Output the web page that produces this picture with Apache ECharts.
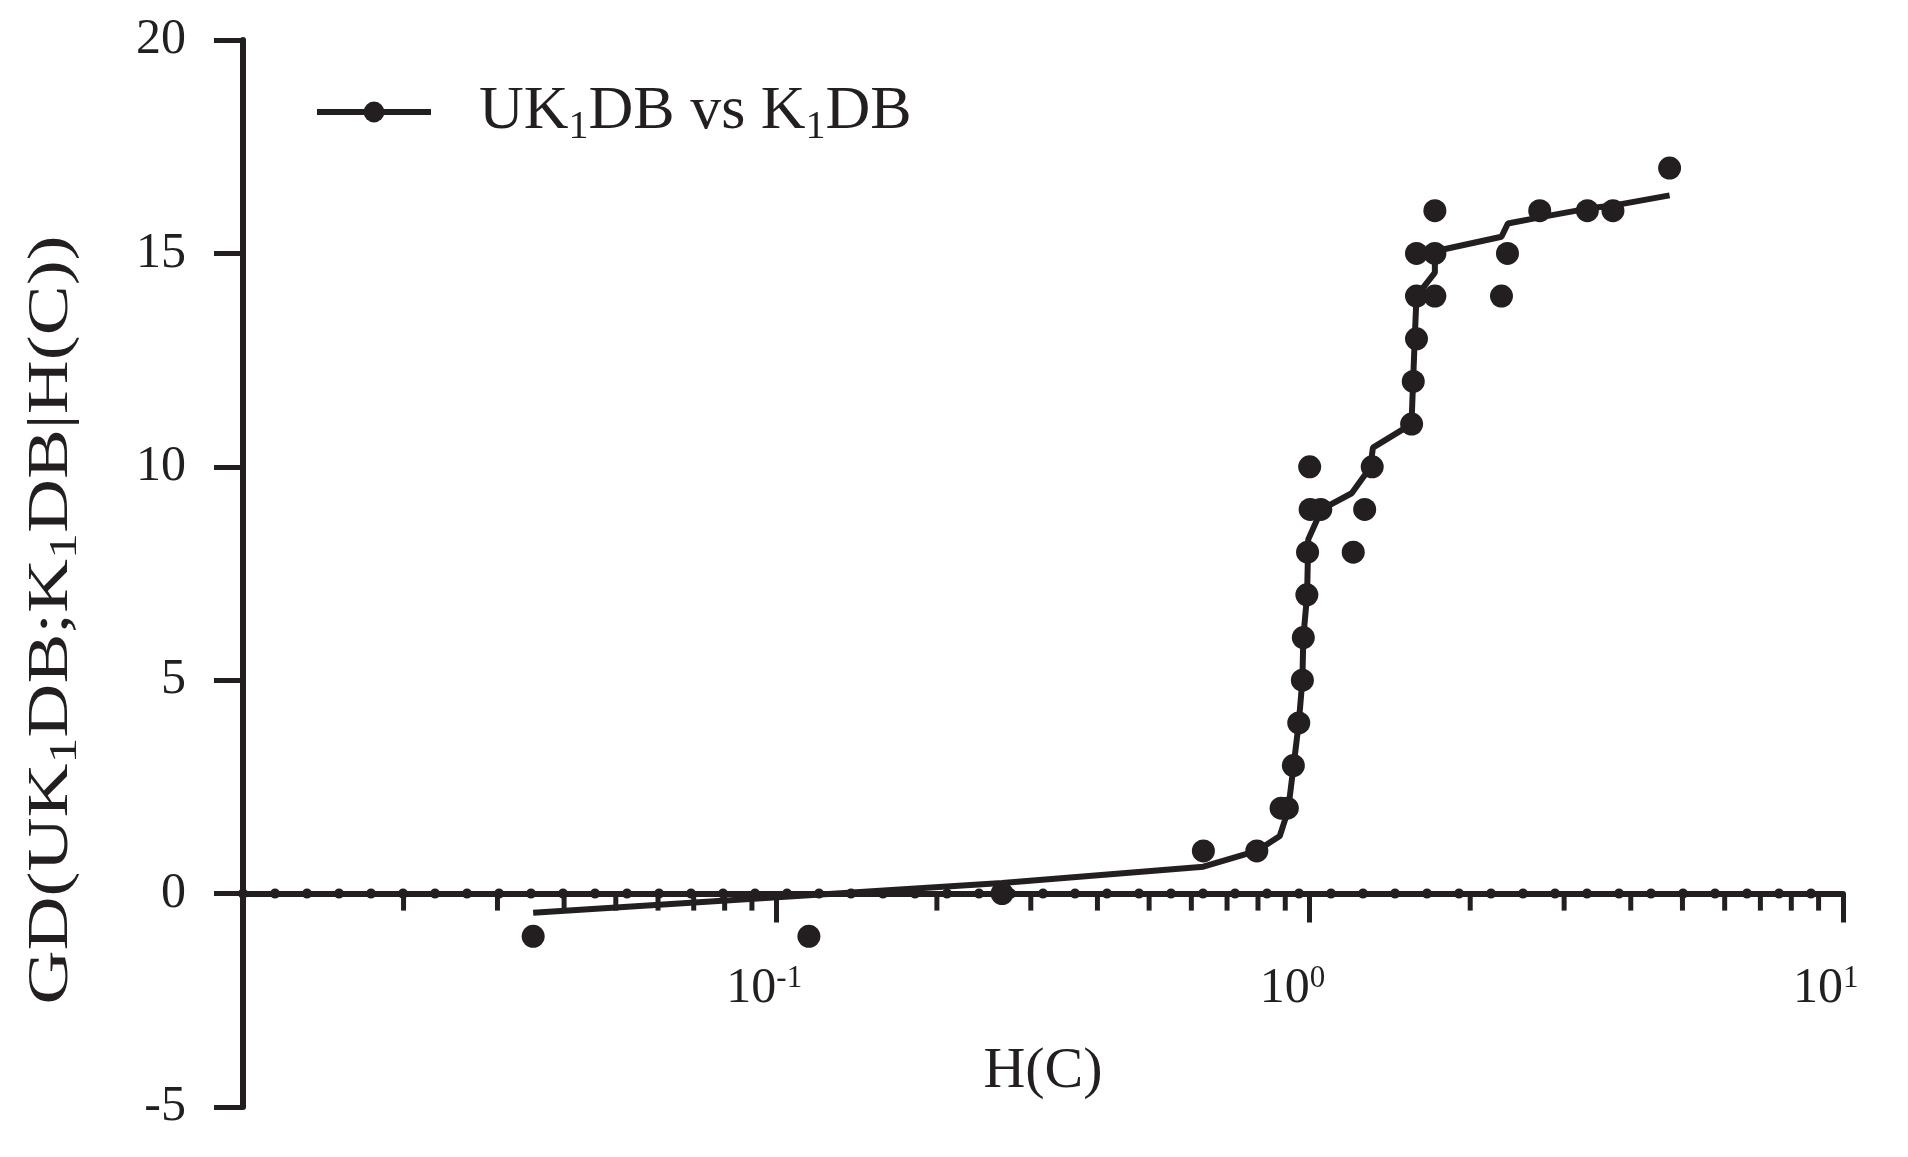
<!DOCTYPE html>
<html><head><meta charset="utf-8">
<script src="https://cdn.jsdelivr.net/npm/echarts@6/dist/echarts.min.js"></script>
<style>html,body{margin:0;padding:0;background:#fff}#c{width:1908px;height:1157px}</style>
</head><body><div id="c"></div>
<script>
// ---- data ----
const pointX = [0.0350, 0.1151, 0.265, 0.632, 0.796, 0.884, 0.908, 0.932, 0.954, 0.969, 0.973, 0.988, 0.991, 1.207, 1.002, 1.049, 1.268, 1.000, 1.310, 1.553, 1.564, 1.586, 1.586, 1.586, 1.717, 1.717, 1.717, 2.289, 2.349, 2.700, 3.316, 3.704, 4.73];
const pointY = [-1, -1, 0, 1, 1, 2, 2, 3, 4, 5, 6, 7, 8, 8, 9, 9, 9, 10, 10, 11, 12, 13, 14, 15, 14, 15, 16, 14, 15, 16, 16, 16, 17];
const fitX = [0.0350, 0.1151, 0.265, 0.632, 0.796, 0.879, 0.911, 0.933, 0.954, 0.969, 0.973, 0.989, 0.994, 1.053, 1.199, 1.268, 1.300, 1.314, 1.552, 1.563, 1.574, 1.586, 1.717, 1.717, 2.289, 2.353, 2.716, 3.32, 3.70, 4.73];
const fitY = [-0.45, -0.04, 0.25, 0.63, 1.0, 1.35, 1.95, 3.0, 4.0, 5.0, 6.0, 7.0, 8.3, 9.0, 9.38, 9.8, 10.0, 10.45, 11.0, 12.0, 13.0, 14.0, 14.55, 15.05, 15.39, 15.7, 15.85, 16.05, 16.12, 16.36];
const zeroLineX = [0.01, 10];
const zeroLineY = [0, 0];
const minorTickValues = [0.02,0.03,0.04,0.05,0.06,0.07,0.08,0.09,0.2,0.3,0.4,0.5,0.6,0.7,0.8,0.9,2,3,4,5,6,7,8,9];
const xLabelExp = {'0.1': '-1', '1': '0', '10': '1'};
const yMin = -5, yMax = 20, yStep = 5;
const seriesName = 'UK1DB vs K1DB';

// ---- chart ----
const INK = '#231f20';
const FONT = '"Liberation Serif", "Times New Roman", serif';
const GRID = {left: 243, right: 65, top: 40, bottom: 50};
const chart = echarts.init(document.getElementById('c'), null, {renderer: 'canvas'});
const option = {
  backgroundColor: '#fff',
  animation: false,
  grid: Object.assign({containLabel: false, outerBoundsMode: 'none'}, GRID),
  legend: {
    left: 314, top: 81, padding: 0,
    itemWidth: 114, itemHeight: 26,
    data: [seriesName],
    lineStyle: {width: 6, color: INK},
    itemStyle: {color: INK},
    formatter: () => '{sp|}{a|UK}{s|1}{a|DB vs K}{s|1}{a|DB}',
    textStyle: {
      color: INK, fontFamily: FONT,
      rich: {
        sp: {width: 43},
        a: {fontSize: 62, fontFamily: FONT, color: INK, lineHeight: 70},
        s: {fontSize: 40, fontFamily: FONT, color: INK, lineHeight: 40, verticalAlign: 'bottom'}
      }
    }
  },
  xAxis: {
    type: 'log', logBase: 10, min: 0.01, max: 10,
    offset: 0,
    axisLine: {onZero: false, lineStyle: {color: INK, width: 6}},
    axisTick: {show: true, length: 29, lineStyle: {color: INK, width: 5}},
    splitLine: {show: false},
    minorTick: {show: false},
    axisLabel: {
      margin: 70, color: INK,
      formatter: (v) => {
        const k = String(+v.toPrecision(6));
        return xLabelExp[k] !== undefined ? '{b|10}{e|' + xLabelExp[k] + '}' : '';
      },
      rich: {
        b: {fontSize: 50, fontFamily: FONT, color: INK, width: 50, align: 'left', lineHeight: 50},
        e: {fontSize: 31, fontFamily: FONT, color: INK, width: 50, align: 'left', lineHeight: 31, verticalAlign: 'top'}
      }
    },
    name: 'H(C)', nameLocation: 'middle', nameGap: 149,
    nameTextStyle: {fontSize: 58, fontFamily: FONT, color: INK}
  },
  yAxis: {
    type: 'value', min: yMin, max: yMax, interval: yStep,
    axisLine: {show: true, onZero: false, lineStyle: {color: INK, width: 6}},
    axisTick: {show: true, length: 29, lineStyle: {color: INK, width: 5}},
    splitLine: {show: false},
    axisLabel: {fontSize: 50, fontFamily: FONT, color: INK, margin: 57}
  },
  graphic: [{
    type: 'text', x: 52, y: 620, rotation: Math.PI / 2, scaleX: 1.29,
    style: {
      text: '{a|GD(UK}{s|1}{a|DB;K}{s|1}{a|DB|H(C))}',
      align: 'center', verticalAlign: 'middle',
      rich: {
        a: {fontSize: 58, fontFamily: FONT, fill: INK, lineHeight: 66},
        s: {fontSize: 40, fontFamily: FONT, fill: INK, lineHeight: 40, verticalAlign: 'bottom'}
      }
    }
  }],
  series: [
    {
      name: seriesName, type: 'line',
      data: fitX.map((x, i) => [x, fitY[i]]),
      symbol: 'circle', showSymbol: false, symbolSize: 22,
      lineStyle: {color: INK, width: 6},
      itemStyle: {color: INK},
      z: 3, silent: true
    },
    {
      name: seriesName, type: 'scatter',
      data: pointX.map((x, i) => [x, pointY[i]]),
      symbol: 'circle', symbolSize: 23,
      itemStyle: {color: INK, opacity: 1},
      z: 4
    },
    {
      name: 'zero', type: 'line',
      data: zeroLineX.map((x, i) => [x, zeroLineY[i]]),
      symbol: 'none',
      lineStyle: {color: INK, width: 10, type: [0, 32], cap: 'round'},
      z: 2, silent: true
    },
    {
      name: 'minorTicks', type: 'custom', clip: false, silent: true, z: 2,
      data: minorTickValues.map(v => [v, 0]),
      encode: {x: 0, y: 1},
      renderItem: (params, api) => {
        const p = api.coord([api.value(0), api.value(1)]);
        return {type: 'line', shape: {x1: p[0], y1: p[1], x2: p[0], y2: p[1] + 17},
          style: {stroke: INK, lineWidth: 5}};
      }
    }
  ]
};
chart.setOption(option);
// place the x axis on the y = 0 line (through the library's own scale)
const yZero = chart.convertToPixel({yAxisIndex: 0}, 0);
const gridBottomPx = chart.getHeight() - GRID.bottom;
chart.setOption({xAxis: {offset: yZero - gridBottomPx}});
</script>
</body></html>
